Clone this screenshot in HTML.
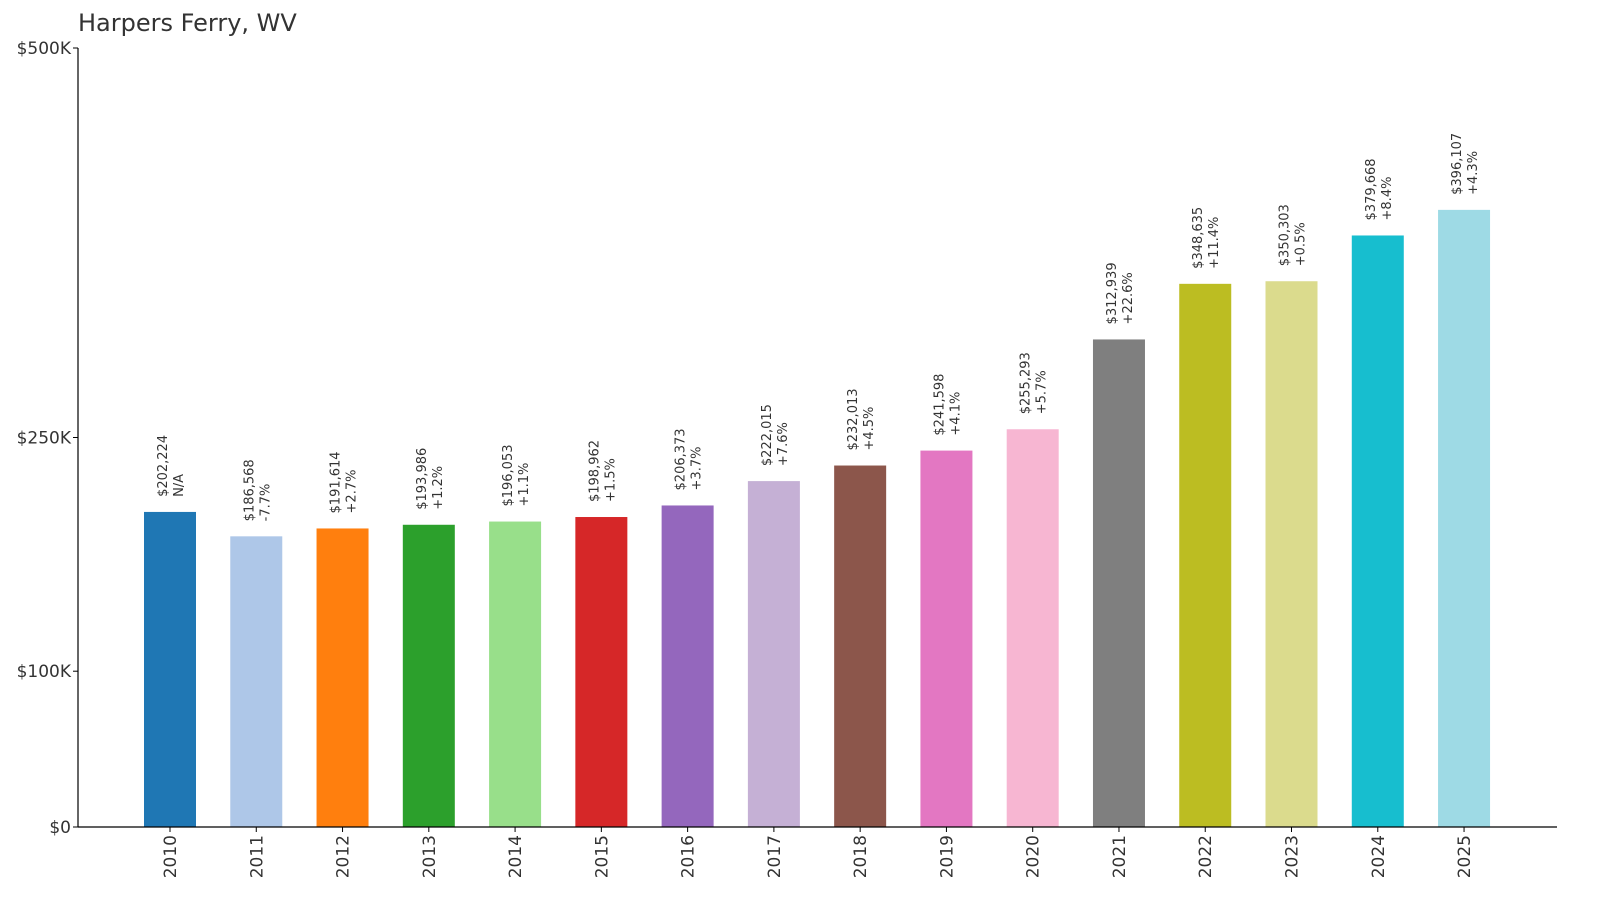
<!DOCTYPE html>
<html><head><meta charset="utf-8"><style>
body{margin:0;background:#fff;}
svg{display:block;font-family:"DejaVu Sans","Liberation Sans",sans-serif;}
</style></head><body>
<svg id="chart" width="1600" height="910">
<text x="78" y="31" font-size="24" fill="#333">Harpers Ferry, WV</text>
<g id="yaxis"></g>
<g id="bars"></g>
<g id="xaxis"></g>
</svg>
<script>
const years=["2010","2011","2012","2013","2014","2015","2016","2017","2018","2019","2020","2021","2022","2023","2024","2025"];
const values=[202224,186568,191614,193986,196053,198962,206373,222015,232013,241598,255293,312939,348635,350303,379668,396107];
const valueLabels=["$202,224","$186,568","$191,614","$193,986","$196,053","$198,962","$206,373","$222,015","$232,013","$241,598","$255,293","$312,939","$348,635","$350,303","$379,668","$396,107"];
const pctLabels=["N/A","-7.7%","+2.7%","+1.2%","+1.1%","+1.5%","+3.7%","+7.6%","+4.5%","+4.1%","+5.7%","+22.6%","+11.4%","+0.5%","+8.4%","+4.3%"];
const colors=["#1f77b4","#aec7e8","#ff7f0e","#2ca02c","#98df8a","#d62728","#9467bd","#c5b0d5","#8c564b","#e377c2","#f7b6d2","#7f7f7f","#bcbd22","#dbdb8d","#17becf","#9edae5"];
const yTicks=[0,100000,250000,500000];
const yTickLabels=["$0","$100K","$250K","$500K"];
const NS="http://www.w3.org/2000/svg";
const y0=827,y1=48,ymax=500000;
const y=v=>y0-(v/ymax)*(y0-y1);
const x0=170,step=86.27,bw=52;
const x=i=>x0+i*step;
function mk(t,a,p){const e=document.createElementNS(NS,t);for(const k in a)e.setAttribute(k,a[k]);p.appendChild(e);return e;}
const ya=document.getElementById('yaxis'),ba=document.getElementById('bars'),xa=document.getElementById('xaxis');
const al=mk('line',{x1:78,y1:y1,x2:78,y2:y0,stroke:'#000','stroke-width':1.2},ya);

yTicks.forEach((v,i)=>{
 const t=mk('line',{x1:73,x2:78,y1:y(v),y2:y(v),stroke:'#000'},ya);
 
 const l=mk('text',{x:71,y:y(v)+6,'text-anchor':'end','font-size':17,fill:'#333'},ya);
 l.textContent=yTickLabels[i];
 
});
const xl=mk('line',{x1:78,y1:y0,x2:1557,y2:y0,stroke:'#000','stroke-width':1.2},xa);

years.forEach((yr,i)=>{
 const cx=x(i),top=y(values[i]);
 const r=mk('rect',{x:cx-bw/2,y:top,width:bw,height:y0-top,fill:colors[i]},ba);
 
 const g=mk('text',{transform:`translate(${cx},${top-15}) rotate(-90)`,'font-size':13,fill:'#333'},ba);
 
 const t1=mk('tspan',{x:0,y:-3},g);t1.textContent=valueLabels[i];
 const t2=mk('tspan',{x:0,y:13},g);t2.textContent=pctLabels[i];
 const tk=mk('line',{x1:cx,x2:cx,y1:y0,y2:y0+5,stroke:'#000'},xa);
 
 const xt=mk('text',{transform:`translate(${cx+6},${y0+8}) rotate(-90)`,'text-anchor':'end','font-size':17,fill:'#333'},xa);
 xt.textContent=yr;
 
});
</script>
</body></html>
